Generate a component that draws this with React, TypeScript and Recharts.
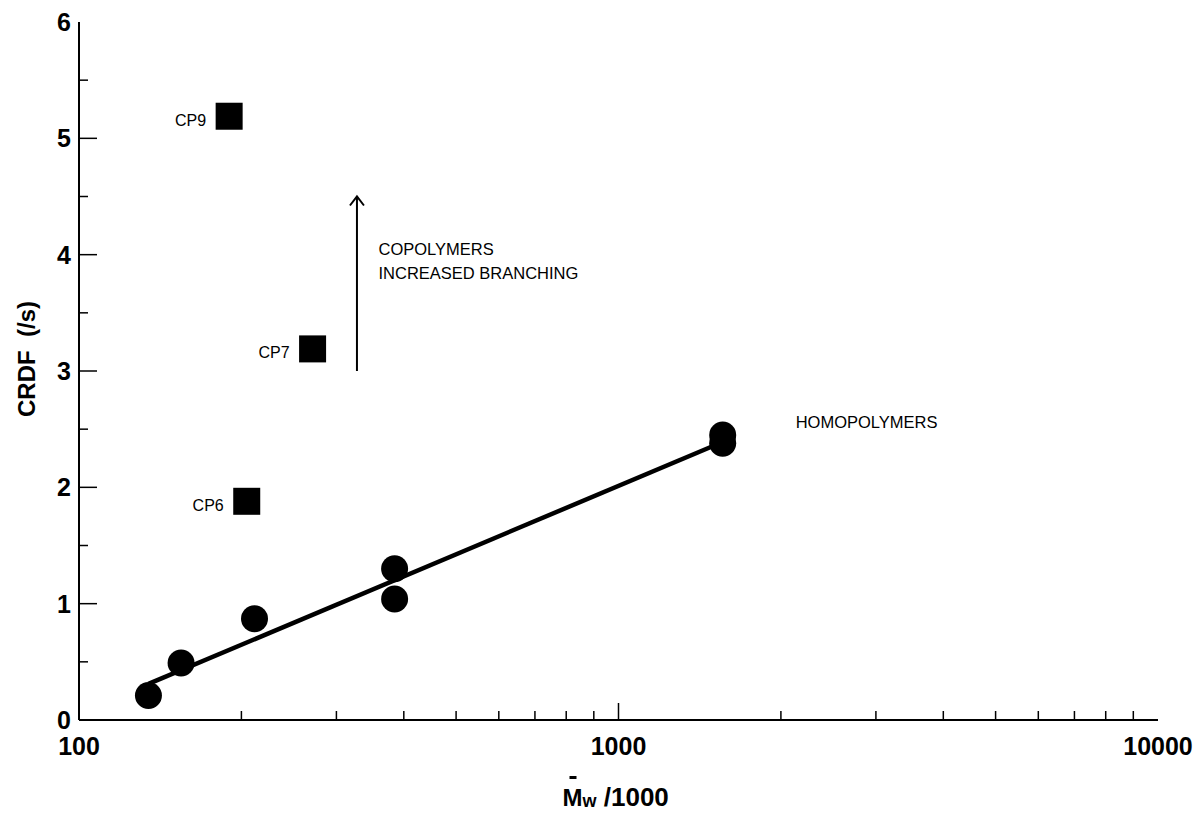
import * as React from "react";
import {
  ComposedChart,
  XAxis,
  YAxis,
  Line,
  Scatter,
} from "recharts";

// homopolymers (circles)
const homopolymers = [
  { x: 134.5, y: 0.21 },
  { x: 154.6, y: 0.49 },
  { x: 211.5, y: 0.87 },
  { x: 384.6, y: 1.3 },
  { x: 384.6, y: 1.04 },
  { x: 1560, y: 2.45 },
  { x: 1560, y: 2.38 },
];

// copolymers (squares)
const copolymers = [
  { x: 189.8, y: 5.19, name: "CP9" },
  { x: 271, y: 3.19, name: "CP7" },
  { x: 204.6, y: 1.88, name: "CP6" },
];

// fitted line through the homopolymers
const fitLine = [
  { x: 134.5, y: 0.31 },
  { x: 1560, y: 2.39 },
];

// "increased branching" arrow
const arrow = [
  { x: 327.5, y: 3.0 },
  { x: 327.5, y: 4.5 },
];

const notes = [
  { x: 359, y: 4.0, text: "COPOLYMERS" },
  { x: 359, y: 3.79, text: "INCREASED BRANCHING" },
  { x: 2130, y: 2.51, text: "HOMOPOLYMERS" },
];

const xTicks = [
  100, 200, 300, 400, 500, 600, 700, 800, 900,
  1000, 2000, 3000, 4000, 5000, 6000, 7000, 8000, 9000, 10000,
];
const xMajor = [100, 1000, 10000];
const yTicks = [0, 0.5, 1, 1.5, 2, 2.5, 3, 3.5, 4, 4.5, 5, 5.5, 6];

const FONT = "'Liberation Sans', Arial, Helvetica, sans-serif";

const XTick = (props: any) => {
  const { x, y, payload } = props;
  const v = payload.value;
  const major = xMajor.includes(v);
  const len = major && v !== 100 && v !== 10000 ? 17 : 9;
  return (
    <g>
      {v !== 100 && v !== 10000 && (
        <line x1={x} x2={x} y1={y} y2={y - len} stroke="#000" strokeWidth={1.5} />
      )}
      {major && (
        <text
          x={x}
          y={y + 35}
          textAnchor="middle"
          fontFamily={FONT}
          fontWeight="bold"
          fontSize={25}
          fill="#000"
        >
          {v}
        </text>
      )}
    </g>
  );
};

const YTick = (props: any) => {
  const { x, y, payload } = props;
  const v = payload.value;
  const major = Number.isInteger(v);
  return (
    <g>
      {v !== 0 && v !== 6 && (
        <line x1={x} x2={x + (major ? 18 : 9)} y1={y} y2={y} stroke="#000" strokeWidth={1.5} />
      )}
      {major && (
        <text
          x={x - 8}
          y={y + 9}
          textAnchor="end"
          fontFamily={FONT}
          fontWeight="bold"
          fontSize={25}
          fill="#000"
        >
          {v}
        </text>
      )}
    </g>
  );
};

const Circle = (props: any) => (
  <circle cx={props.cx} cy={props.cy} r={13.5} fill="#000" />
);

const Square = (props: any) => (
  <g>
    <rect x={props.cx - 13.5} y={props.cy - 13.5} width={27} height={27} fill="#000" />
    <text
      x={props.cx - 23}
      y={props.cy + 9.5}
      textAnchor="end"
      fontFamily={FONT}
      fontSize={16}
      fill="#000"
    >
      {props.payload.name}
    </text>
  </g>
);

const Note = (props: any) => (
  <text x={props.cx} y={props.cy} fontFamily={FONT} fontSize={16.5} fill="#000">
    {props.payload.text}
  </text>
);

const ArrowHead = (props: any) => {
  if (props.index !== 1) return <g />;
  const { cx, cy } = props;
  return (
    <path
      d={`M${cx - 7},${cy + 9} L${cx},${cy} L${cx + 7},${cy + 9}`}
      stroke="#000"
      strokeWidth={2}
      fill="none"
    />
  );
};

const XLabel = (props: any) => {
  const { viewBox } = props;
  const cx = viewBox.x + viewBox.width / 2;
  const sx = cx - 56;
  return (
    <g>
      <rect x={sx + 7} y={776} width={7} height={3} fill="#000" />
      <text x={sx} y={806} fontFamily={FONT} fontWeight="bold" fontSize={24} fill="#000">
        M
        <tspan fontSize={18} dy={1}>w</tspan>
        <tspan fontSize={26} dy={-1}>{" /1000"}</tspan>
      </text>
    </g>
  );
};

const YLabel = (props: any) => {
  const { viewBox } = props;
  const cy = viewBox.y + viewBox.height / 2 - 12;
  return (
    <text
      x={35}
      y={cy}
      transform={`rotate(-90, 35, ${cy})`}
      textAnchor="middle"
      fontFamily={FONT}
      fontWeight="bold"
      fontSize={24}
      fill="#000"
      style={{ whiteSpace: "pre" }}
    >
      {"CRDF  (/s)"}
    </text>
  );
};

export default function App() {
  return (
    <div style={{ position: "absolute", left: 0, top: 0, background: "#fff" }}>
      <ComposedChart
        width={1199}
        height={814}
        margin={{ top: 22, right: 41, bottom: 0, left: 0 }}
      >
        <XAxis
          dataKey="x"
          type="number"
          scale="log"
          domain={[100, 10000]}
          ticks={xTicks}
          interval={0}
          height={94}
          tickSize={0}
          tickMargin={0}
          tickLine={false}
          axisLine={{ stroke: "#000", strokeWidth: 2 }}
          tick={<XTick />}
          label={<XLabel />}
          allowDataOverflow
        />
        <XAxis
          xAxisId="top"
          orientation="top"
          dataKey="x"
          type="number"
          scale="log"
          domain={[100, 10000]}
          height={0}
          tick={false}
          tickLine={false}
          axisLine={{ stroke: "#000", strokeWidth: 2 }}
          allowDataOverflow
        />
        <YAxis
          type="number"
          domain={[0, 6]}
          ticks={yTicks}
          interval={0}
          width={79}
          tickSize={0}
          tickMargin={0}
          tickLine={false}
          axisLine={{ stroke: "#000", strokeWidth: 2 }}
          tick={<YTick />}
          label={<YLabel />}
          allowDataOverflow
        />
        <YAxis
          yAxisId="right"
          orientation="right"
          type="number"
          domain={[0, 6]}
          width={0}
          tick={false}
          tickLine={false}
          axisLine={{ stroke: "#000", strokeWidth: 2 }}
        />
        <Line
          data={fitLine}
          dataKey="y"
          type="linear"
          stroke="#000"
          strokeWidth={4.5}
          dot={false}
          activeDot={false}
          isAnimationActive={false}
        />
        <Line
          data={arrow}
          dataKey="y"
          type="linear"
          stroke="#000"
          strokeWidth={2}
          dot={<ArrowHead />}
          activeDot={false}
          isAnimationActive={false}
        />
        <Scatter
          data={homopolymers}
          dataKey="y"
          shape={<Circle />}
          isAnimationActive={false}
        />
        <Scatter
          data={copolymers}
          dataKey="y"
          shape={<Square />}
          isAnimationActive={false}
        />
        <Scatter
          data={notes}
          dataKey="y"
          shape={<Note />}
          isAnimationActive={false}
        />
      </ComposedChart>
    </div>
  );
}
